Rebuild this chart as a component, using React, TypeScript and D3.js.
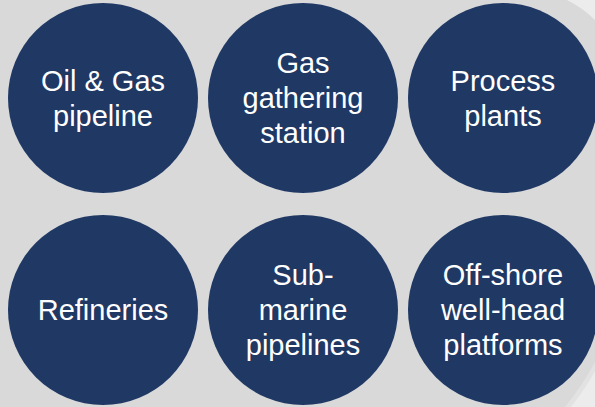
import React from "react";
import * as d3 from "d3";

const categories: string[][] = [
  ["Oil & Gas", "pipeline"],
  ["Gas", "gathering", "station"],
  ["Process", "plants"],
  ["Refineries"],
  ["Sub-", "marine", "pipelines"],
  ["Off-shore", "well-head", "platforms"],
];
const columns = [0, 1, 2];
const rows = [0, 1];

const W = 595;
const H = 407;

export default function App() {
  const x = d3.scalePoint<number>().domain(columns).range([103, 503]);
  const y = d3.scalePoint<number>().domain(rows).range([98, 310]);
  const r = 95;
  const fs = 29;
  const lh = 35;

  return (
    <svg
      width={W}
      height={H}
      style={{ position: "absolute", left: 0, top: 0, display: "block" }}
    >
      <defs>
        <linearGradient id="shade" x1="0" y1="0" x2="1" y2="1">
          <stop offset="0" stopColor="#cfcfcf" />
          <stop offset="1" stopColor="#ececec" />
        </linearGradient>
      </defs>
      <rect x={0} y={0} width={W} height={H} fill="#d9d9d9" />
      <path d="M567,0 Q583,8 595,20 L595,0 Z" fill="#ececec" />
      <path d="M565,407 Q582,386 595,362 L595,407 Z" fill="#e2e2e2" />
      <path d="M571,407 Q586,388 595,371 L595,407 Z" fill="#ececec" />
      {categories.map((lines, i) => {
        const cx = x(i % 3)!;
        const cy = y(Math.floor(i / 3))!;
        const first = cy - ((lines.length - 1) / 2) * lh + fs * 0.35;
        return (
          <g key={i}>
            <circle cx={cx} cy={cy} r={r} fill="#1f3864" />
            <text
              textAnchor="middle"
              fill="#ffffff"
              fontFamily="'Liberation Sans', Arial, sans-serif"
              fontSize={fs}
            >
              {lines.map((t, j) => (
                <tspan key={j} x={cx} y={first + j * lh}>
                  {t}
                </tspan>
              ))}
            </text>
          </g>
        );
      })}
    </svg>
  );
}
